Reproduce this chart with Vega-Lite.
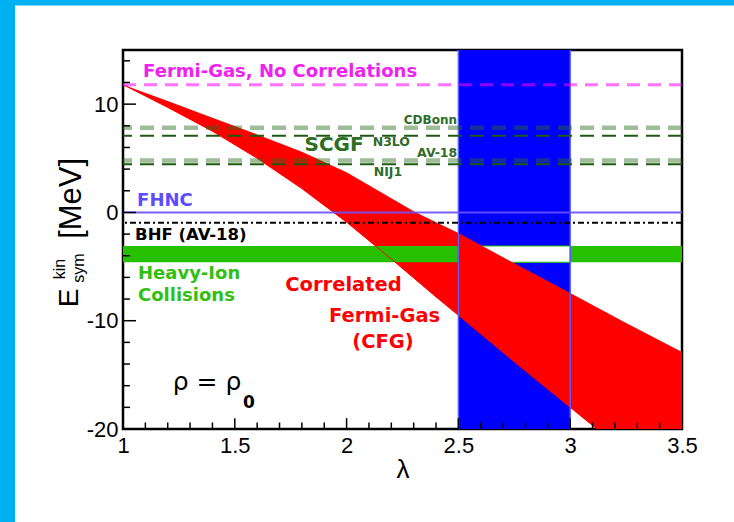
{
  "$schema": "https://vega.github.io/schema/vega-lite/v6.json",
  "width": 559,
  "height": 379,
  "autosize": {"type": "none"},
  "padding": {"left": 123, "top": 50, "right": 52, "bottom": 93},
  "background": "white",
  "config": {
    "view": {"stroke": "black", "strokeWidth": 2.5},
    "axis": {"grid": false, "ticks": false, "domain": false, "labelFlush": false, "labelOverlap": false, "labelFont": "Liberation Sans", "labelFontSize": 22, "labelColor": "black", "titleFont": "Liberation Sans", "titleFontWeight": "normal", "titleColor": "black"}
  },
  "datasets": {
    "cfg": [
      {"lam": 1.0, "lo": 11.8, "hi": 11.8},
      {"lam": 1.2, "lo": 9.7, "hi": 10.3},
      {"lam": 1.4, "lo": 7.5, "hi": 8.75},
      {"lam": 1.6, "lo": 5.0, "hi": 7.2},
      {"lam": 1.8, "lo": 2.2, "hi": 5.6},
      {"lam": 2.0, "lo": -0.9, "hi": 3.7},
      {"lam": 2.2, "lo": -4.3, "hi": 1.3},
      {"lam": 2.3, "lo": -6.05, "hi": 0.1},
      {"lam": 2.4, "lo": -7.8, "hi": -0.9},
      {"lam": 2.5, "lo": -9.5, "hi": -1.9},
      {"lam": 2.75, "lo": -13.8, "hi": -4.7},
      {"lam": 3.0, "lo": -18.0, "hi": -7.45},
      {"lam": 3.25, "lo": -22.2, "hi": -10.2},
      {"lam": 3.5, "lo": -26.4, "hi": -12.9}
    ],
    "yMinor": [{"v": -18}, {"v": -16}, {"v": -14}, {"v": -12}, {"v": -8}, {"v": -6}, {"v": -4}, {"v": -2}, {"v": 2}, {"v": 4}, {"v": 6}, {"v": 8}, {"v": 12}, {"v": 14}],
    "yMajor": [{"v": -10}, {"v": 0}, {"v": 10}],
    "xMinor": [{"v": 1.1}, {"v": 1.2}, {"v": 1.3}, {"v": 1.4}, {"v": 1.6}, {"v": 1.7}, {"v": 1.8}, {"v": 1.9}, {"v": 2.1}, {"v": 2.2}, {"v": 2.3}, {"v": 2.4}, {"v": 2.6}, {"v": 2.7}, {"v": 2.8}, {"v": 2.9}, {"v": 3.1}, {"v": 3.2}, {"v": 3.3}, {"v": 3.4}],
    "xMajor": [{"v": 1.5}, {"v": 2.0}, {"v": 2.5}, {"v": 3.0}]
  },
  "layer": [
    {
      "data": {"values": [{"x1": 0.4, "x2": 0.517, "y1": -40, "y2": 21}, {"x1": 0.4, "x2": 3.9, "y1": 19.1, "y2": 21}]},
      "mark": {"type": "rect", "color": "#00b0f0"},
      "encoding": {
        "x": {"field": "x1", "type": "quantitative", "scale": {"domain": [1, 3.5], "nice": false, "zero": false}, "title": "λ", "axis": {"values": [1, 1.5, 2, 2.5, 3, 3.5], "labelExpr": "'' + datum.value", "labelPadding": 6, "titleFontSize": 26, "titlePadding": 0}},
        "x2": {"field": "x2"},
        "y": {"field": "y1", "type": "quantitative", "scale": {"domain": [-20, 15], "nice": false, "zero": false}, "title": null, "axis": {"values": [-20, -10, 0, 10], "labelExpr": "'' + datum.value", "labelPadding": 5}},
        "y2": {"field": "y2"}
      }
    },
    {
      "data": {"values": [{"x1": 2.5, "x2": 3.0, "y1": -3.1, "y2": 15}, {"x1": 2.5, "x2": 3.0, "y1": -20, "y2": -4.6}]},
      "mark": {"type": "rect", "color": "#0000ff"},
      "encoding": {
        "x": {"field": "x1", "type": "quantitative"},
        "x2": {"field": "x2"},
        "y": {"field": "y1", "type": "quantitative"},
        "y2": {"field": "y2"}
      }
    },
    {
      "data": {"values": [{"x1": 2.5, "x2": 3.0, "y1": -3.1, "y2": -4.6}]},
      "mark": {"type": "rect", "fill": "white", "stroke": "#26c000", "strokeWidth": 1},
      "encoding": {
        "x": {"field": "x1", "type": "quantitative"},
        "x2": {"field": "x2"},
        "y": {"field": "y1", "type": "quantitative"},
        "y2": {"field": "y2"}
      }
    },
    {
      "data": {"name": "cfg"},
      "mark": {"type": "area", "color": "#ff0000", "clip": true},
      "encoding": {
        "x": {"field": "lam", "type": "quantitative"},
        "y": {"field": "lo", "type": "quantitative"},
        "y2": {"field": "hi"}
      }
    },
    {
      "data": {"values": [{"x1": 1.0, "x2": 2.5, "y1": -3.1, "y2": -4.6}, {"x1": 3.0, "x2": 3.5, "y1": -3.1, "y2": -4.6}]},
      "mark": {"type": "rect", "color": "#26c000"},
      "encoding": {
        "x": {"field": "x1", "type": "quantitative"},
        "x2": {"field": "x2"},
        "y": {"field": "y1", "type": "quantitative"},
        "y2": {"field": "y2"}
      }
    },
    {
      "data": {"name": "cfg"},
      "mark": {"type": "line", "color": "#ff0000", "strokeWidth": 1, "clip": true},
      "encoding": {
        "x": {"field": "lam", "type": "quantitative"},
        "y": {"field": "lo", "type": "quantitative"}
      }
    },
    {
      "data": {"values": [{"v": 2.5}, {"v": 3.0}]},
      "mark": {"type": "rule", "color": "#5a5aff", "strokeWidth": 1.5},
      "encoding": {"x": {"field": "v", "type": "quantitative"}}
    },
    {
      "data": {"values": [{"v": 11.8}]},
      "mark": {"type": "rule", "color": "#ff00ff", "opacity": 0.55, "strokeWidth": 3, "strokeDash": [13, 8]},
      "encoding": {"y": {"field": "v", "type": "quantitative"}}
    },
    {
      "data": {"values": [{"v": 7.82}, {"v": 4.8}]},
      "mark": {"type": "rule", "color": "#2a6a1a", "opacity": 0.45, "strokeWidth": 4.5, "strokeDash": [14, 8]},
      "encoding": {"y": {"field": "v", "type": "quantitative"}}
    },
    {
      "data": {"values": [{"v": 7.08}, {"v": 4.45}]},
      "mark": {"type": "rule", "color": "#1e5a10", "strokeWidth": 2, "strokeDash": [14, 8]},
      "encoding": {"y": {"field": "v", "type": "quantitative"}}
    },
    {
      "data": {"values": [{"v": 0}]},
      "mark": {"type": "rule", "color": "#6a50ff", "opacity": 0.9, "strokeWidth": 2},
      "encoding": {"y": {"field": "v", "type": "quantitative"}}
    },
    {
      "data": {"values": [{"v": -0.96}]},
      "mark": {"type": "rule", "color": "black", "strokeWidth": 2, "strokeDash": [6, 3, 2, 3]},
      "encoding": {"y": {"field": "v", "type": "quantitative"}}
    },
    {
      "data": {"name": "yMinor"},
      "mark": {"type": "rule", "color": "black", "strokeWidth": 1.5},
      "encoding": {
        "y": {"field": "v", "type": "quantitative"},
        "x": {"datum": 1, "type": "quantitative"},
        "x2": {"datum": 1.031}
      }
    },
    {
      "data": {"name": "yMajor"},
      "mark": {"type": "rule", "color": "black", "strokeWidth": 1.5},
      "encoding": {
        "y": {"field": "v", "type": "quantitative"},
        "x": {"datum": 1, "type": "quantitative"},
        "x2": {"datum": 1.058}
      }
    },
    {
      "data": {"name": "xMinor"},
      "mark": {"type": "rule", "color": "black", "strokeWidth": 1.5},
      "encoding": {
        "x": {"field": "v", "type": "quantitative"},
        "y": {"datum": -20, "type": "quantitative"},
        "y2": {"datum": -19.4}
      }
    },
    {
      "data": {"name": "xMajor"},
      "mark": {"type": "rule", "color": "black", "strokeWidth": 1.5},
      "encoding": {
        "x": {"field": "v", "type": "quantitative"},
        "y": {"datum": -20, "type": "quantitative"},
        "y2": {"datum": -19.0}
      }
    },
    {
      "data": {"values": [{"lam": 1.09, "E": 13.0, "t": "Fermi-Gas, No Correlations"}]},
      "mark": {"type": "text", "font": "DejaVu Sans", "fontWeight": "bold", "fontSize": 18, "color": "#f020f0", "align": "left", "baseline": "middle"},
      "encoding": {"x": {"field": "lam", "type": "quantitative"}, "y": {"field": "E", "type": "quantitative"}, "text": {"field": "t"}}
    },
    {
      "data": {"values": [{"lam": 2.494, "E": 8.5, "t": "CDBonn"}]},
      "mark": {"type": "text", "font": "DejaVu Sans", "fontWeight": "bold", "fontSize": 12, "color": "#2f6b2a", "align": "right", "baseline": "middle"},
      "encoding": {"x": {"field": "lam", "type": "quantitative"}, "y": {"field": "E", "type": "quantitative"}, "text": {"field": "t"}}
    },
    {
      "data": {"values": [{"lam": 2.2, "E": 6.5, "t": "N3LO"}, {"lam": 2.405, "E": 5.5, "t": "AV-18"}, {"lam": 2.185, "E": 3.73, "t": "NIJ1"}]},
      "mark": {"type": "text", "font": "DejaVu Sans", "fontWeight": "bold", "fontSize": 12.5, "color": "#2f6b2a", "align": "center", "baseline": "middle"},
      "encoding": {"x": {"field": "lam", "type": "quantitative"}, "y": {"field": "E", "type": "quantitative"}, "text": {"field": "t"}}
    },
    {
      "data": {"values": [{"lam": 1.944, "E": 6.2, "t": "SCGF"}]},
      "mark": {"type": "text", "font": "DejaVu Sans", "fontWeight": "bold", "fontSize": 20, "color": "#2d6e22", "align": "center", "baseline": "middle"},
      "encoding": {"x": {"field": "lam", "type": "quantitative"}, "y": {"field": "E", "type": "quantitative"}, "text": {"field": "t"}}
    },
    {
      "data": {"values": [{"lam": 1.063, "E": 1.05, "t": "FHNC"}]},
      "mark": {"type": "text", "font": "DejaVu Sans", "fontWeight": "bold", "fontSize": 18, "color": "#5a4cff", "align": "left", "baseline": "middle"},
      "encoding": {"x": {"field": "lam", "type": "quantitative"}, "y": {"field": "E", "type": "quantitative"}, "text": {"field": "t"}}
    },
    {
      "data": {"values": [{"lam": 1.054, "E": -2.07, "t": "BHF (AV-18)"}]},
      "mark": {"type": "text", "font": "DejaVu Sans", "fontWeight": "bold", "fontSize": 16.5, "color": "black", "align": "left", "baseline": "middle"},
      "encoding": {"x": {"field": "lam", "type": "quantitative"}, "y": {"field": "E", "type": "quantitative"}, "text": {"field": "t"}}
    },
    {
      "data": {"values": [{"lam": 1.067, "E": -5.7, "t": "Heavy-Ion"}, {"lam": 1.067, "E": -7.75, "t": "Collisions"}]},
      "mark": {"type": "text", "font": "DejaVu Sans", "fontWeight": "bold", "fontSize": 18, "color": "#30c010", "align": "left", "baseline": "middle"},
      "encoding": {"x": {"field": "lam", "type": "quantitative"}, "y": {"field": "E", "type": "quantitative"}, "text": {"field": "t"}}
    },
    {
      "data": {"values": [{"lam": 1.986, "E": -6.7, "t": "Correlated"}, {"lam": 2.17, "E": -9.6, "t": "Fermi-Gas"}, {"lam": 2.163, "E": -12.0, "t": "(CFG)"}]},
      "mark": {"type": "text", "font": "DejaVu Sans", "fontWeight": "bold", "fontSize": 19.5, "color": "#ff0000", "align": "center", "baseline": "middle"},
      "encoding": {"x": {"field": "lam", "type": "quantitative"}, "y": {"field": "E", "type": "quantitative"}, "text": {"field": "t"}}
    },
    {
      "data": {"values": [{"lam": 1.376, "E": -16.4, "t": "ρ = ρ"}]},
      "mark": {"type": "text", "font": "DejaVu Sans", "fontSize": 25, "color": "black", "align": "center", "baseline": "alphabetic"},
      "encoding": {"x": {"field": "lam", "type": "quantitative"}, "y": {"field": "E", "type": "quantitative"}, "text": {"field": "t"}}
    },
    {
      "data": {"values": [{"lam": 1.563, "E": -18.05, "t": "0"}]},
      "mark": {"type": "text", "font": "DejaVu Sans", "fontWeight": "bold", "fontSize": 17, "color": "black", "align": "center", "baseline": "alphabetic"},
      "encoding": {"x": {"field": "lam", "type": "quantitative"}, "y": {"field": "E", "type": "quantitative"}, "text": {"field": "t"}}
    },
    {
      "data": {"values": [{"lam": 0.763, "E": -7.9, "t": "E"}]},
      "mark": {"type": "text", "font": "Liberation Sans", "fontSize": 28, "color": "black", "align": "center", "baseline": "middle", "angle": 270},
      "encoding": {"x": {"field": "lam", "type": "quantitative"}, "y": {"field": "E", "type": "quantitative"}, "text": {"field": "t"}}
    },
    {
      "data": {"values": [{"lam": 0.774, "E": 1.3, "t": "[MeV]"}]},
      "mark": {"type": "text", "font": "Liberation Sans", "fontSize": 31, "color": "black", "align": "center", "baseline": "middle", "angle": 270},
      "encoding": {"x": {"field": "lam", "type": "quantitative"}, "y": {"field": "E", "type": "quantitative"}, "text": {"field": "t"}}
    },
    {
      "data": {"values": [{"lam": 0.72, "E": -5.23, "t": "kin"}, {"lam": 0.803, "E": -5.14, "t": "sym"}]},
      "mark": {"type": "text", "font": "Liberation Sans", "fontSize": 16, "color": "black", "align": "center", "baseline": "middle", "angle": 270},
      "encoding": {"x": {"field": "lam", "type": "quantitative"}, "y": {"field": "E", "type": "quantitative"}, "text": {"field": "t"}}
    }
  ]
}
